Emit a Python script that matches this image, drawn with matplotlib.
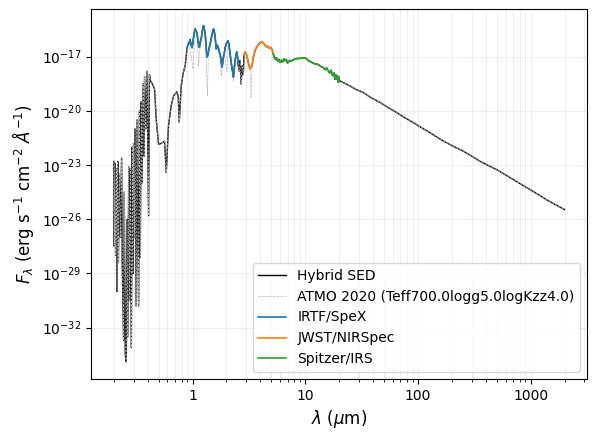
import numpy as np
import matplotlib.pyplot as plt
from matplotlib.ticker import ScalarFormatter, NullLocator

# ATMO 2020 model, wavelength (um) and log10 flux (erg/s/cm2/A)
model_wl = [0.200, 0.2025, 0.205, 0.208, 0.211, 0.214, 0.217, 0.220, 0.224, 0.229,
            0.2349, 0.238, 0.2447, 0.248, 0.2533, 0.2587, 0.262, 0.2664, 0.272, 0.276,
            0.2807, 0.2864, 0.2923, 0.296, 0.3002, 0.305, 0.3089, 0.3163, 0.3218, 0.3324,
            0.338, 0.3441, 0.350, 0.3562, 0.3659, 0.372, 0.3757, 0.385, 0.3946, 0.4076,
            0.415, 0.422, 0.4396, 0.4607, 0.4771, 0.4998, 0.5282, 0.5649, 0.5848, 0.6128,
            0.6476, 0.6788, 0.7274, 0.7468, 0.7625, 0.7943, 0.8273, 0.8615,
            0.892, 0.93, 0.97, 1.01, 1.057, 1.10, 1.13, 1.16, 1.20, 1.252, 1.30, 1.358,
            1.38, 1.44, 1.535, 1.59, 1.65, 1.72, 1.80, 1.85, 1.93, 2.02, 2.07, 2.16, 2.25,
            2.32, 2.40, 2.47, 2.54, 2.60, 2.65, 2.70, 2.76, 2.82, 2.88, 2.93, 3.05, 3.24,
            3.31, 3.38, 3.52, 3.72, 3.90, 4.12, 4.32, 4.56, 4.78, 5.05, 5.19,
            5.4, 5.98, 6.6, 7.1, 7.85, 9.0, 10.0, 10.65, 11.4, 12.65, 14.5, 16.0, 17.7, 19.0,
            20.3, 22.0, 24.9, 28.0, 32.7, 38.0, 46.0, 54.0, 64.6, 76.0, 90.7, 107, 127.5,
            150, 179.2, 212, 251.5, 300, 353.4, 420, 496.8, 590, 697, 830, 980, 1170,
            1377, 1650, 2000]
model_logf = [-22.8, -27.5, -22.9, -28.0, -23.2, -30.0, -22.8, -28.4, -23.5, -27.0,
              -22.6, -28.4, -32.7, -24.5, -33.5, -33.9, -26.0, -32.5, -23.1, -30.5,
              -23.2, -33.1, -22.0, -29.0, -21.8, -27.0, -21.0, -30.8, -20.5, -30.8,
              -20.0, -28.1, -19.5, -24.0, -18.5, -22.5, -18.1, -21.0, -17.8, -25.8,
              -18.0, -18.3, -18.5, -18.8, -20.5, -21.85, -21.8, -21.67, -23.4, -20.8,
              -19.7, -19.17, -18.94, -19.2, -20.64, -18.6, -17.9, -17.5,
              -16.6, -16.3, -16.9, -17.68, -15.5, -15.8, -17.52, -16.6, -16.1, -15.3, -15.8, -19.17,
              -17.0, -16.3, -15.5, -15.95, -16.6, -16.5, -18.07, -17.3, -16.9, -17.85, -16.15, -16.9, -17.7,
              -18.35, -17.3, -16.8, -17.4, -17.8, -17.2, -18.52, -17.5, -18.0, -17.0, -16.8, -17.05, -17.7,
              -19.24, -17.5, -16.9, -16.5, -16.33, -16.2, -16.32, -16.5, -16.55, -16.6, -16.82,
              -17.2, -17.35, -17.25, -17.35, -17.2, -17.12, -17.1, -17.25, -17.33, -17.43, -17.6, -17.8, -18.07, -18.25,
              -18.33, -18.45, -18.61, -18.8, -18.98, -19.25, -19.53, -19.8, -20.09, -20.37, -20.64, -20.92, -21.2,
              -21.48, -21.76, -22.0, -22.22, -22.5, -22.78, -23.02, -23.24, -23.52, -23.79, -24.07, -24.35, -24.63,
              -24.91, -25.18, -25.46]

# IRTF/SpeX
spex_wl = [0.892, 0.91, 0.93, 0.95, 0.97, 0.99, 1.01, 1.03, 1.057, 1.08, 1.10, 1.12, 1.14,
           1.153, 1.17, 1.194, 1.22, 1.252, 1.27, 1.296, 1.32, 1.341, 1.36, 1.377, 1.40,
           1.435, 1.48, 1.535, 1.56, 1.589, 1.622, 1.65, 1.689, 1.72, 1.76, 1.80, 1.833,
           1.87, 1.909, 1.95, 1.989, 2.03, 2.072, 2.11, 2.158, 2.20, 2.247, 2.28, 2.307,
           2.35, 2.389, 2.43, 2.474, 2.51, 2.540]
spex_logf = [-16.57, -16.35, -16.25, -16.05, -16.3, -16.5, -16.2, -15.75, -15.46, -15.6, -15.74, -16.2, -16.45,
             -16.48, -16.2, -16.02, -15.6, -15.28, -15.45, -15.74, -16.4, -17.02, -16.95, -16.85, -16.55,
             -16.29, -15.85, -15.46, -15.6, -15.91, -16.57, -16.35, -16.46, -16.7, -16.85, -17.3, -17.57,
             -17.1, -16.85, -16.5, -16.29, -16.2, -16.11, -16.4, -16.85, -17.3, -17.68, -17.9, -18.13,
             -17.6, -17.24, -16.9, -16.74, -17.0, -17.41]

# JWST/NIRSpec
nirspec_wl = [2.87, 2.93, 3.00, 3.051, 3.15, 3.244, 3.30, 3.38, 3.45, 3.521, 3.62, 3.719, 3.80,
              3.897, 4.00, 4.119, 4.22, 4.315, 4.45, 4.56, 4.65, 4.779, 4.90, 5.05, 5.19]
nirspec_logf = [-16.9, -16.74, -16.85, -17.02, -17.4, -17.68, -17.6, -17.46, -17.1, -16.85, -16.6, -16.46, -16.38,
                -16.29, -16.22, -16.18, -16.22, -16.29, -16.4, -16.46, -16.42, -16.52, -16.48, -16.57, -16.79]

# Spitzer/IRS
irs_wl = [5.20, 5.30, 5.40, 5.55, 5.70, 5.85, 5.98, 6.15, 6.3, 6.45, 6.62, 6.8, 6.95, 7.09,
          7.3, 7.5, 7.85, 8.2, 8.6, 8.99, 9.5, 9.96, 10.3, 10.65, 11.0, 11.42, 12.0, 12.65,
          13.2, 13.8, 14.47, 15.0, 15.5, 16.02, 16.5, 17.0, 17.4, 17.74, 18.1, 18.4, 18.7,
          19.01, 19.3, 19.6, 19.8, 20.05]
irs_logf = [-16.85, -17.0, -17.13, -17.05, -17.25, -17.15, -17.31, -17.2, -17.3, -17.12, -17.22, -17.15, -17.35, -17.31,
            -17.2, -17.25, -17.17, -17.12, -17.1, -17.09, -17.08, -17.07, -17.12, -17.22, -17.25, -17.31, -17.38, -17.41,
            -17.45, -17.55, -17.59, -17.72, -17.62, -17.78, -17.9, -17.75, -18.0, -18.06, -17.9, -18.25, -18.0,
            -18.24, -18.05, -18.4, -18.1, -18.39]

# hybrid SED: model outside the observed ranges, data inside
mwl = np.array(model_wl)
mf = 10.0 ** np.array(model_logf)
specs = [(spex_wl, spex_logf), (nirspec_wl, nirspec_logf), (irs_wl, irs_logf)]
keep = np.ones(len(mwl), dtype=bool)
for w, _ in specs:
    keep &= ~((mwl >= w[0]) & (mwl <= w[-1]))
hyb_wl = np.concatenate([mwl[keep]] + [np.array(w) for w, _ in specs])
hyb_f = np.concatenate([mf[keep]] + [10.0 ** np.array(f) for _, f in specs])
order = np.argsort(hyb_wl)

fig, ax = plt.subplots(figsize=(5.96, 4.4), dpi=100)
fig.subplots_adjust(left=0.153, right=0.985, bottom=0.139, top=0.98)
ax.plot(hyb_wl[order], hyb_f[order], color="black", lw=1, label="Hybrid SED")
ax.plot(mwl, mf, color="0.72", lw=0.5, ls="--",
        label="ATMO 2020 (Teff700.0logg5.0logKzz4.0)")
ax.plot(spex_wl, 10.0 ** np.array(spex_logf), color="C0", lw=1.2, label="IRTF/SpeX")
ax.plot(nirspec_wl, 10.0 ** np.array(nirspec_logf), color="C1", lw=1.2, label="JWST/NIRSpec")
ax.plot(irs_wl, 10.0 ** np.array(irs_logf), color="C2", lw=1.2, label="Spitzer/IRS")

ax.set_xscale("log")
ax.set_yscale("log")
ax.xaxis.set_major_formatter(ScalarFormatter())
ax.yaxis.set_minor_locator(NullLocator())
ax.grid(True, which="both", alpha=0.2)
ax.set_xlabel(r"$\lambda$ ($\mu$m)", fontsize=12)
ax.set_ylabel(r"$F_\lambda$ (erg s$^{-1}$ cm$^{-2}$ $Å^{-1}$)", fontsize=12)
ax.legend(loc="lower right")

fig.savefig("out.png")
